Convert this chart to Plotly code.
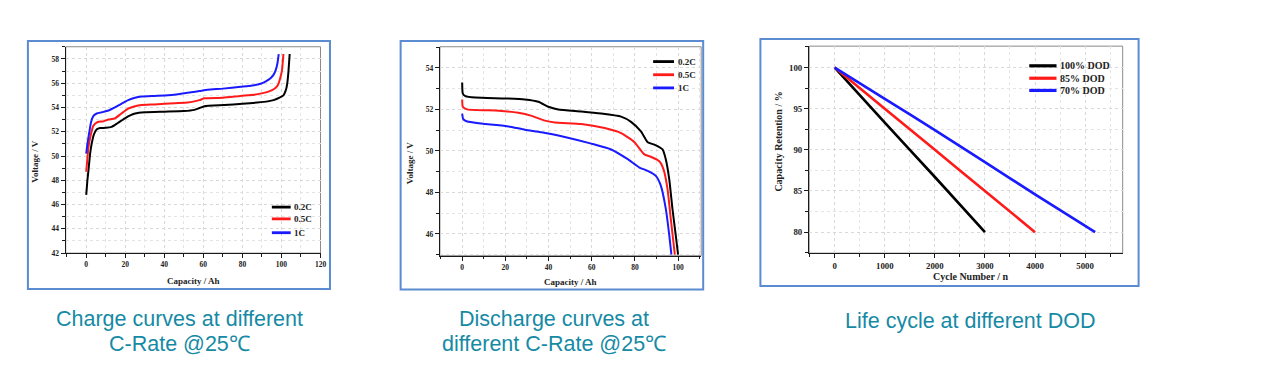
import plotly.graph_objects as go

# ---------------- data ----------------
rates = ["0.2C", "0.5C", "1C"]
dods = ["100% DOD", "85% DOD", "70% DOD"]

charge_cap_02 = [0, 0.6, 1.2, 2.0, 2.9, 4.0, 5.4, 7.1, 10, 13, 16, 19.8, 22.5, 25, 30, 40, 50, 55.4, 58, 60.5, 70.7, 80, 87.6, 93, 96, 99, 101, 102.2, 102.9, 103.5, 104.2]
charge_v_02 = [46.8, 48.0, 48.9, 50.2, 51.1, 51.8, 52.2, 52.3, 52.32, 52.4, 52.7, 53.1, 53.35, 53.5, 53.6, 53.65, 53.7, 53.8, 53.95, 54.1, 54.2, 54.3, 54.4, 54.5, 54.6, 54.8, 55.0, 55.4, 55.9, 56.8, 58.4]

charge_cap_05 = [0, 0.6, 1.2, 2.4, 3.7, 5.9, 8.5, 11.4, 14.7, 18, 21.5, 25, 28.3, 35, 45.3, 52, 55.4, 58, 60.5, 70, 79, 86, 91, 94, 96, 97.8, 98.6, 99.5, 100.3, 101]
charge_v_05 = [48.7, 49.8, 50.8, 51.8, 52.5, 52.8, 52.85, 53.0, 53.1, 53.5, 53.9, 54.1, 54.2, 54.25, 54.35, 54.4, 54.5, 54.6, 54.75, 54.8, 54.95, 55.05, 55.2, 55.35, 55.5, 55.75, 56.0, 56.5, 57.1, 58.4]

charge_cap_1 = [0, 0.7, 1.5, 2.5, 3.7, 5.4, 8, 11.4, 14.7, 18, 21.5, 25, 28.3, 35, 42, 48, 53.7, 58, 62.2, 70, 79.2, 85, 89.3, 92, 94.4, 96, 97, 97.9, 98.6]
charge_v_1 = [50.2, 51.1, 51.9, 52.8, 53.3, 53.5, 53.6, 53.75, 54.0, 54.3, 54.6, 54.8, 54.9, 54.95, 55.0, 55.1, 55.25, 55.35, 55.45, 55.55, 55.7, 55.8, 55.95, 56.15, 56.4, 56.7, 57.05, 57.6, 58.4]

dis_cap_02 = [0, 0.3, 1.5, 6.1, 20, 29, 35.3, 39.9, 44.5, 55.2, 64.4, 73.6, 78.2, 82.8, 85.9, 89, 92.8, 94.3, 95.9, 97.4, 98.9, 100]
dis_v_02 = [53.3, 52.76, 52.64, 52.57, 52.53, 52.48, 52.37, 52.13, 52.0, 51.9, 51.8, 51.65, 51.4, 50.94, 50.42, 50.3, 50.07, 49.6, 48.64, 47.2, 45.95, 45.0]

dis_cap_05 = [0, 0.3, 2.3, 16.9, 26, 32.2, 38.3, 42.9, 55.2, 66, 73.6, 79.8, 84.4, 87.4, 91.3, 93.3, 95.1, 96.6, 98.5]
dis_v_05 = [52.48, 52.13, 52.0, 51.94, 51.84, 51.69, 51.46, 51.37, 51.3, 51.1, 50.86, 50.42, 49.83, 49.72, 49.5, 49.1, 48.17, 46.74, 45.0]

dis_cap_1 = [0, 0.5, 2.3, 10.7, 21.5, 29.1, 36.8, 47.5, 59.8, 69, 76.7, 82.1, 85.9, 89.7, 92, 94.3, 95.9, 96.9]
dis_v_1 = [51.8, 51.53, 51.42, 51.3, 51.18, 51.02, 50.9, 50.67, 50.35, 50.07, 49.6, 49.2, 49.04, 48.8, 48.33, 47.22, 45.95, 45.0]

cyc_100 = [0, 1000, 2000, 3000]
ret_100 = [100, 93.3, 86.7, 80]
cyc_85 = [0, 1000, 2000, 3000, 4000]
ret_85 = [100, 95, 90, 85, 80]
cyc_70 = [0, 1000, 2000, 3000, 4000, 5200]
ret_70 = [100, 96.2, 92.4, 88.5, 84.6, 80]

captions = [
    ["Charge curves at different", "C-Rate @25℃"],
    ["Discharge curves at", "different C-Rate @25℃"],
    ["Life cycle at different DOD"],
]

# ---------------- style ----------------
colors = ["#000000", "#ff1a1a", "#1a1aff"]
serif = "Liberation Serif, Times New Roman, serif"
teal = "#168aa5"
OFF = 8  # page body margin
W, H = 1278 - 2 * OFF, 365 - 2 * OFF

def px_x(p):
    return (p - OFF) / W

def px_y(p):
    return 1 - (p - OFF) / H

fig = go.Figure()

series_sets = [
    ("x", "y", [(charge_cap_02, charge_v_02), (charge_cap_05, charge_v_05), (charge_cap_1, charge_v_1)], rates, 2),
    ("x2", "y2", [(dis_cap_02, dis_v_02), (dis_cap_05, dis_v_05), (dis_cap_1, dis_v_1)], rates, 2),
    ("x3", "y3", [(cyc_100, ret_100), (cyc_85, ret_85), (cyc_70, ret_70)], dods, 2.6),
]
for xa, ya, series, names, lw in series_sets:
    for (xs, ys), name, c in zip(series, names, colors):
        fig.add_trace(go.Scatter(x=xs, y=ys, mode="lines", name=name, xaxis=xa, yaxis=ya,
                                 line=dict(color=c, width=lw, shape="spline", smoothing=0.5),
                                 showlegend=False, cliponaxis=True))

# panel geometry in reference pixels: plot box (left, right, top, bottom) and border box
panels = [
    dict(box=(66, 322, 47.3, 256.7), border=(28, 331.5, 41.5, 293),
         xr=[-10.5, 120], yr=[42, 59], xd=20, yd=2, xm=10, ym=1, tf=7.5),
    dict(box=(442, 704.5, 47.3, 259.3), border=(402.5, 706.5, 41.5, 293.5),
         xr=[-10.3, 110.7], yr=[44.95, 55.02], xd=20, yd=2, xm=10, ym=1, tf=7.5),
    dict(box=(813, 1128, 46.7, 256.7), border=(764, 1144, 39.5, 290),
         xr=[-510, 5750], yr=[77.45, 102.6], xd=1000, yd=5, xm=500, ym=2.5, tf=8.8),
]

layout = dict(width=W, height=H, margin=dict(l=0, r=0, t=0, b=0),
              paper_bgcolor="white", plot_bgcolor="white", showlegend=False)
shapes = []
annotations = []
for i, p in enumerate(panels):
    sfx = "" if i == 0 else str(i + 1)
    l, r, t, b = p["box"]
    common = dict(showline=True, linecolor="#1a1a1a", linewidth=1.4, ticks="outside", ticklen=4,
                  tickwidth=1.2, tickcolor="#1a1a1a", showgrid=True, gridcolor="#d8d8d8",
                  griddash="dot", gridwidth=1, zeroline=False,
                  tickfont=dict(family=serif, size=p["tf"], color="#222", weight="bold"))
    layout["xaxis" + sfx] = dict(common, domain=[px_x(l), px_x(r)], range=p["xr"], dtick=p["xd"], tick0=0,
                                 anchor="y" + sfx,
                                 minor=dict(dtick=p["xm"], tick0=0, ticks="outside", ticklen=2.5, tickcolor="#1a1a1a",
                                            showgrid=True, gridcolor="#e4e4e4", griddash="dot"))
    layout["yaxis" + sfx] = dict(common, domain=[px_y(b), px_y(t)], range=p["yr"], dtick=p["yd"], tick0=0,
                                 anchor="x" + sfx,
                                 minor=dict(dtick=p["ym"], tick0=0, ticks="outside", ticklen=2.5, tickcolor="#1a1a1a",
                                            showgrid=True, gridcolor="#e4e4e4", griddash="dot"))
    # light frame on top/right
    shapes.append(dict(type="rect", xref=f"x{sfx} domain", yref=f"y{sfx} domain", x0=0, x1=1, y0=0, y1=1,
                       line=dict(color="#8a8a8a", width=1), layer="below"))
    # blue panel border
    bl, br, bt, bb = p["border"]
    shapes.append(dict(type="rect", xref="paper", yref="paper", x0=px_x(bl), x1=px_x(br),
                       y0=px_y(bb), y1=px_y(bt), line=dict(color="#5b8bd0", width=2)))

# axis titles
titles = [
    ("Capacity / Ah", "Voltage / V", 9, (0.503, -0.135), (-0.121, 0.447)),
    ("Capacity / Ah", "Voltage / V", 9, (0.499, -0.126), (-0.1155, 0.446)),
    ("Cycle Number / n", "Capacity Retention / %", 10, (0.515, -0.112), (-0.098, 0.541)),
]
for i, (xt, yt, fs, (xx, xy), (yx, yy)) in enumerate(titles):
    sfx = "" if i == 0 else str(i + 1)
    f = dict(family=serif, size=fs, color="#222", weight="bold")
    annotations.append(dict(text=xt, xref=f"x{sfx} domain", yref=f"y{sfx} domain", x=xx, y=xy,
                            showarrow=False, font=f, xanchor="center", yanchor="middle"))
    annotations.append(dict(text=yt, xref=f"x{sfx} domain", yref=f"y{sfx} domain", x=yx, y=yy,
                            showarrow=False, font=f, textangle=-90, xanchor="center", yanchor="middle"))

# legends (line swatch + label), in axis-domain coordinates
legends = [
    (rates, (0.809, 0.883), 0.887, [0.223, 0.166, 0.099], 9, 2.2),
    (rates, (0.816, 0.896), 0.905, [0.929, 0.866, 0.803], 9, 2.2),
    (dods, (0.702, 0.789), 0.794, [0.905, 0.845, 0.786], 10, 2.6),
]
for i, (names, (lx0, lx1), tx, ys, fs, lw) in enumerate(legends):
    sfx = "" if i == 0 else str(i + 1)
    for name, c, yy in zip(names, colors, ys):
        shapes.append(dict(type="line", xref=f"x{sfx} domain", yref=f"y{sfx} domain",
                           x0=lx0, x1=lx1, y0=yy, y1=yy, line=dict(color=c, width=lw + 0.6)))
        annotations.append(dict(text=name, xref=f"x{sfx} domain", yref=f"y{sfx} domain", x=tx, y=yy,
                                showarrow=False, xanchor="left", yanchor="middle",
                                font=dict(family=serif, size=fs, color="#222", weight="bold")))

# captions
cap_pos = [(180, [324, 349]), (557, [324, 349]), (975, [326])]
for lines, (cx, cys) in zip(captions, cap_pos):
    for txt, cy in zip(lines, cys):
        annotations.append(dict(text=txt, xref="paper", yref="paper", x=px_x(cx), y=px_y(cy),
                                showarrow=False, xanchor="center", yanchor="middle",
                                font=dict(family="Liberation Sans, Arial, sans-serif", size=21.5, color=teal)))

layout["shapes"] = shapes
layout["annotations"] = annotations
fig.update_layout(**layout)
fig.write_html("out.html")
